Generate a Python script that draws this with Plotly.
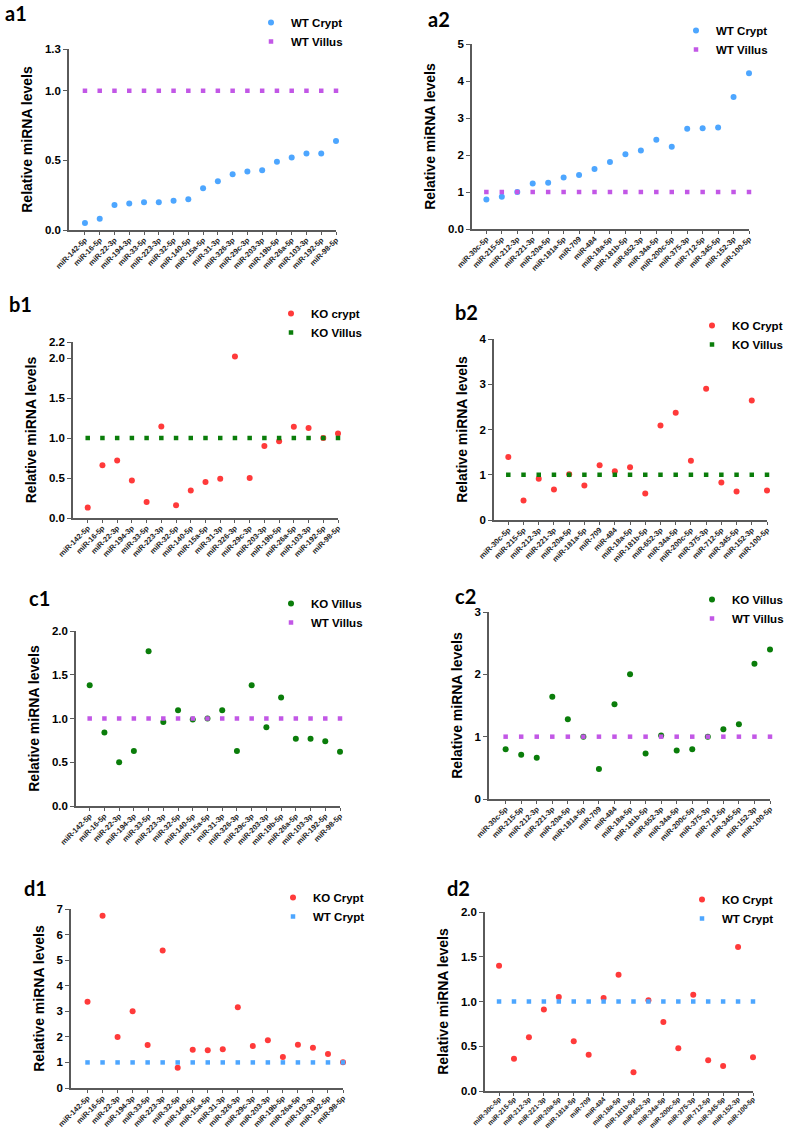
import plotly.graph_objects as go

# ---------------- data ----------------
categories1 = ["miR-142-5p", "miR-16-5p", "miR-22-3p", "miR-194-3p", "miR-33-5p", "miR-223-3p",
               "miR-32-5p", "miR-140-5p", "miR-15a-5p", "miR-31-3p", "miR-326-3p", "miR-29c-3p",
               "miR-203-3p", "miR-19b-5p", "miR-26a-5p", "miR-103-3p", "miR-192-5p", "miR-98-5p"]
categories2 = ["miR-30c-5p", "miR-215-5p", "miR-212-3p", "miR-221-3p", "miR-20a-5p", "miR-181a-5p",
               "miR-709", "miR-484", "miR-18a-5p", "miR-181b-5p", "miR-652-3p", "miR-34a-5p",
               "miR-200c-5p", "miR-375-3p", "miR-712-5p", "miR-345-5p", "miR-152-3p", "miR-100-5p"]

reference_level = [1.0, 1.0, 1.0, 1.0, 1.0, 1.0, 1.0, 1.0, 1.0,
                   1.0, 1.0, 1.0, 1.0, 1.0, 1.0, 1.0, 1.0, 1.0]

a1_wt_crypt = [0.05, 0.08, 0.18, 0.19, 0.20, 0.20, 0.21, 0.22, 0.30, 0.35, 0.40, 0.42,
               0.43, 0.49, 0.52, 0.55, 0.55, 0.64]
a2_wt_crypt = [0.80, 0.87, 1.00, 1.23, 1.25, 1.39, 1.46, 1.62, 1.81, 2.02, 2.12, 2.41,
               2.22, 2.71, 2.72, 2.74, 3.57, 4.21]
b1_ko_crypt = [0.13, 0.66, 0.72, 0.47, 0.20, 1.145, 0.16, 0.345, 0.45, 0.49, 2.02, 0.50,
               0.90, 0.96, 1.14, 1.125, 1.00, 1.055]
b2_ko_crypt = [1.39, 0.43, 0.91, 0.675, 1.01, 0.765, 1.21, 1.08, 1.165, 0.585, 2.09, 2.37,
               1.31, 2.90, 0.83, 0.63, 2.64, 0.65]
c1_ko_villus = [1.38, 0.84, 0.50, 0.63, 1.77, 0.96, 1.095, 0.99, 1.00, 1.095, 0.63, 1.38,
                0.90, 1.24, 0.77, 0.77, 0.74, 0.62]
c2_ko_villus = [0.80, 0.71, 0.66, 1.64, 1.28, 1.00, 0.48, 1.52, 2.00, 0.73, 1.02, 0.78,
                0.80, 1.00, 1.12, 1.20, 2.17, 2.40]
d1_ko_crypt = [3.37, 6.74, 1.99, 3.00, 1.68, 5.38, 0.79, 1.50, 1.48, 1.52, 3.16, 1.64,
               1.87, 1.21, 1.69, 1.57, 1.33, 1.01]
d2_ko_crypt = [1.40, 0.36, 0.60, 0.91, 1.05, 0.555, 0.405, 1.04, 1.30, 0.21, 1.015, 0.77,
               0.477, 1.075, 0.343, 0.28, 1.61, 0.376]

# ---------------- styling ----------------
W, H = 787, 1130
BLUE = "#4da6ff"
PURPLE = "#c257e6"
RED = "#ff3a3a"
GREEN = "#0a7d0a"
AXC = "#5a5a5a"
FONT = "Arial, Liberation Sans, sans-serif"


def fx(px):
    return px / W


def fy(py):
    return 1 - py / H


panels = [
    dict(label="a1", lpos=(3, 13), cats=categories1,
         s1=("WT Crypt", a1_wt_crypt, BLUE), s2=("WT Villus", reference_level, PURPLE),
         xd=(69, 336), yd=(230, 49), xoff=-1.08, yr=(0, 1.3), xfs=7.5,
         tv=[0, 0.5, 1.0, 1.3], tt=["0.0", "0.5", "1.0", "1.3"], leg=(278, 22)),
    dict(label="a2", lpos=(426, 19), cats=categories2,
         s1=("WT Crypt", a2_wt_crypt, BLUE), s2=("WT Villus", reference_level, PURPLE),
         xd=(472, 749), yd=(229, 44), xoff=-0.93, yr=(0, 5), xfs=7.5,
         tv=[0, 1, 2, 3, 4, 5], tt=["0.0", "1", "2", "3", "4", "5"], leg=(703, 30)),
    dict(label="b1", lpos=(7, 304), cats=categories1,
         s1=("KO crypt", b1_ko_crypt, RED), s2=("KO Villus", reference_level, GREEN),
         xd=(73, 338), yd=(518, 342), xoff=-1.0, yr=(0, 2.2), xfs=7.5,
         tv=[0, 0.5, 1.0, 1.5, 2.0, 2.2], tt=["0.0", "0.5", "1.0", "1.5", "2.0", "2.2"], leg=(298, 313)),
    dict(label="b2", lpos=(453, 312), cats=categories2,
         s1=("KO Crypt", b2_ko_crypt, RED), s2=("KO Villus", reference_level, GREEN),
         xd=(494, 767), yd=(520, 339), xoff=-0.94, yr=(0, 4), xfs=7.5,
         tv=[0, 1, 2, 3, 4], tt=["0", "1", "2", "3", "4"], leg=(719, 325)),
    dict(label="c1", lpos=(27, 598), cats=categories1,
         s1=("KO Villus", c1_ko_villus, GREEN), s2=("WT Villus", reference_level, PURPLE),
         xd=(76, 340), yd=(806, 631), xoff=-0.93, yr=(0, 2.0), xfs=7.5,
         tv=[0, 0.5, 1.0, 1.5, 2.0], tt=["0.0", "0.5", "1.0", "1.5", "2.0"], leg=(298, 603)),
    dict(label="c2", lpos=(453, 596), cats=categories2,
         s1=("KO Villus", c2_ko_villus, GREEN), s2=("WT Villus", reference_level, PURPLE),
         xd=(489, 770), yd=(799, 612), xoff=-1.07, yr=(0, 3), xfs=7.5,
         tv=[0, 1, 2, 3], tt=["0", "1", "2", "3"], leg=(719, 599)),
    dict(label="d1", lpos=(22, 888), cats=categories1,
         s1=("KO Crypt", d1_ko_crypt, RED), s2=("WT Crypt", reference_level, BLUE),
         xd=(71, 343), yd=(1088, 909), xoff=-1.1, yr=(0, 7), xfs=7.5,
         tv=[0, 1, 2, 3, 4, 5, 6, 7], tt=["0", "1", "2", "3", "4", "5", "6", "7"], leg=(300, 897)),
    dict(label="d2", lpos=(445, 888), cats=categories2,
         s1=("KO Crypt", d2_ko_crypt, RED), s2=("WT Crypt", reference_level, BLUE),
         xd=(485, 753), yd=(1091, 912), xoff=-0.94, yr=(0, 2.0), xfs=6.8,
         tv=[0, 0.5, 1.0, 1.5, 2.0], tt=["0.0", "0.5", "1.0", "1.5", "2.0"], leg=(709, 899)),
]

fig = go.Figure()
layout = dict(width=W, height=H, margin=dict(l=0, r=0, t=0, b=0, autoexpand=False),
              template="none",
              paper_bgcolor="white", plot_bgcolor="white", showlegend=True,
              font=dict(family=FONT, color="black"))
annotations = []

for i, p in enumerate(panels, start=1):
    sfx = "" if i == 1 else str(i)
    xa, ya = "x" + sfx, "y" + sfx
    leg = "legend" + sfx
    name1, vals1, col1 = p["s1"]
    name2, vals2, col2 = p["s2"]
    fig.add_trace(go.Scatter(x=p["cats"], y=vals1, mode="markers", name=name1,
                             marker=dict(symbol="circle", size=6, color=col1),
                             xaxis=xa, yaxis=ya, legend=leg, cliponaxis=False))
    fig.add_trace(go.Scatter(x=p["cats"], y=vals2, mode="markers", name=name2,
                             marker=dict(symbol="square", size=4.5, color=col2),
                             xaxis=xa, yaxis=ya, legend=leg, cliponaxis=False))
    layout["xaxis" + sfx] = dict(
        domain=[fx(p["xd"][0]), fx(p["xd"][1])], anchor=ya, automargin=False,
        type="category", categoryorder="array", categoryarray=p["cats"],
        range=[p["xoff"], 17], showgrid=False, zeroline=False,
        showline=True, linecolor=AXC, linewidth=1.5,
        ticks="outside", ticklen=3, tickcolor=AXC, tickwidth=1.2,
        ticklabelstandoff=-3 if i == 8 else -2,
        tickangle=-45, tickfont=dict(family=FONT, size=p["xfs"], color="#222", weight="bold"),
        fixedrange=True)
    layout["yaxis" + sfx] = dict(
        domain=[fy(p["yd"][0]), fy(p["yd"][1])], anchor=xa, automargin=False,
        range=list(p["yr"]), tickvals=p["tv"], ticktext=p["tt"],
        showgrid=False, zeroline=False, showline=True, linecolor=AXC, linewidth=1.5,
        ticks="outside", ticklen=4, tickcolor=AXC, tickwidth=1.2,
        tickfont=dict(family=FONT, size=11.5, color="black", weight="bold"),
        title=dict(text="Relative miRNA levels", standoff=9,
                   font=dict(family=FONT, size=14, color="black", weight="bold")),
        fixedrange=True)
    mx, my = p["leg"]
    layout[leg] = dict(x=fx(mx - 27), y=fy(my - 14), xanchor="left", yanchor="top",
                       bgcolor="rgba(0,0,0,0)", itemwidth=30, tracegroupgap=0,
                       font=dict(family=FONT, size=11.5, color="black", weight="bold"))
    annotations.append(dict(text=p["label"], x=fx(p["lpos"][0]), y=fy(p["lpos"][1]),
                            xref="paper", yref="paper", xanchor="left", yanchor="middle",
                            showarrow=False,
                            font=dict(family="Lato, Open Sans, sans-serif", size=20,
                                      color="black", weight="bold")))

layout["annotations"] = annotations
fig.update_layout(**layout)
fig.write_html("out.html", config={"displayModeBar": False},
               post_script="document.body.style.margin='0';")
